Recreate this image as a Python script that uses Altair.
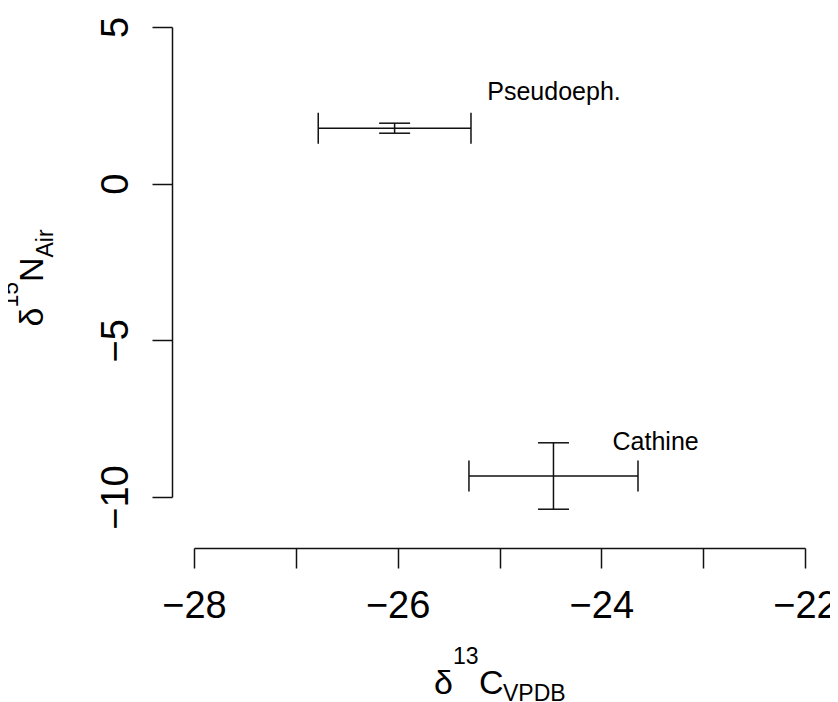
import altair as alt
import pandas as pd

# ---- data ----
compounds = ["Pseudoeph.", "Cathine"]
d13C = [-26.03, -24.47]          # δ13C VPDB mean
d13C_sd = [0.75, 0.83]           # half-width of horizontal error bar
d15N = [1.77, -9.33]             # δ15N Air mean
d15N_sd = [0.16, 1.06]           # half-height of vertical error bar
label_x = [-25.12, -23.89]
label_y = [2.91, -8.23]

x_ticks = [-28, -27, -26, -25, -24, -23, -22]
y_ticks = [-10, -5, 0, 5]

df = pd.DataFrame({
    "compound": compounds,
    "x": d13C,
    "x_lo": [m - s for m, s in zip(d13C, d13C_sd)],
    "x_hi": [m + s for m, s in zip(d13C, d13C_sd)],
    "y": d15N,
    "y_lo": [m - s for m, s in zip(d15N, d15N_sd)],
    "y_hi": [m + s for m, s in zip(d15N, d15N_sd)],
    "lx": label_x,
    "ly": label_y,
})

FONT = "Liberation Sans"
INK = "#111111"
LW = 1.5
CAP = 31

xs = alt.Scale(domain=[-28, -22], nice=False, zero=False)
ys = alt.Scale(domain=[-10, 5], nice=False, zero=False)

xaxis = alt.Axis(
    values=x_ticks, title=None, offset=51, tickSize=20, tickWidth=LW,
    domainWidth=LW, domainColor=INK, tickColor=INK, grid=False,
    labelFont=FONT, labelFontSize=38, labelColor="#000", labelPadding=19,
    labelOverlap=False, labelFlush=False,
    labelExpr="datum.value % 2 == 0 ? datum.label : ''",
)
yaxis = alt.Axis(
    values=y_ticks, title=None, offset=22, tickSize=20, tickWidth=LW,
    domainWidth=LW, domainColor=INK, tickColor=INK, grid=False,
    labelFont=FONT, labelFontSize=38, labelColor="#000", labelPadding=25,
    labelAngle=270, labelAlign="center", labelBaseline="alphabetic",
    labelOverlap=False, labelFlush=False,
)

base = alt.Chart(df)

hbar = base.mark_rule(color=INK, strokeWidth=LW).encode(
    x=alt.X("x_lo:Q", scale=xs, axis=xaxis),
    x2="x_hi:Q",
    y=alt.Y("y:Q", scale=ys, axis=yaxis),
)
vbar = base.mark_rule(color=INK, strokeWidth=LW).encode(
    x=alt.X("x:Q", scale=xs, axis=xaxis),
    y=alt.Y("y_lo:Q", scale=ys, axis=yaxis),
    y2="y_hi:Q",
)
hcap_lo = base.mark_tick(orient="vertical", size=CAP, thickness=LW, color=INK, opacity=1).encode(
    x=alt.X("x_lo:Q", scale=xs, axis=xaxis), y=alt.Y("y:Q", scale=ys, axis=yaxis))
hcap_hi = base.mark_tick(orient="vertical", size=CAP, thickness=LW, color=INK, opacity=1).encode(
    x=alt.X("x_hi:Q", scale=xs, axis=xaxis), y=alt.Y("y:Q", scale=ys, axis=yaxis))
vcap_lo = base.mark_tick(orient="horizontal", size=CAP, thickness=LW, color=INK, opacity=1).encode(
    x=alt.X("x:Q", scale=xs, axis=xaxis), y=alt.Y("y_lo:Q", scale=ys, axis=yaxis))
vcap_hi = base.mark_tick(orient="horizontal", size=CAP, thickness=LW, color=INK, opacity=1).encode(
    x=alt.X("x:Q", scale=xs, axis=xaxis), y=alt.Y("y_hi:Q", scale=ys, axis=yaxis))

labels = base.mark_text(align="left", baseline="middle", font=FONT, fontSize=25, color="#000").encode(
    x=alt.X("lx:Q", scale=xs, axis=xaxis),
    y=alt.Y("ly:Q", scale=ys, axis=yaxis),
    text="compound:N",
)

# ---- axis titles built from pieces (super/subscripts) ----
one = alt.Data(values=[{"k": 0}])


def piece(txt, px, py, size, angle=0):
    return alt.Chart(one).mark_text(
        text=txt, align="left", baseline="alphabetic", font=FONT,
        fontSize=size, color="#000", angle=angle,
    ).encode(x=alt.value(px), y=alt.value(py))


MAIN, SCRIPT = 34, 23
x_title = [
    piece("δ", 240, 667, MAIN),
    piece("13", 259, 637, SCRIPT),
    piece("C", 285, 667, MAIN),
    piece("VPDB", 309, 674, SCRIPT),
]
y_title = [
    piece("δ", -151, 299.5, MAIN, 270),
    piece("15", -176, 280.6, SCRIPT, 270),
    piece("N", -151, 255, MAIN, 270),
    piece("Air", -141, 230.5, SCRIPT, 270),
]

chart = alt.layer(
    hbar, vbar, hcap_lo, hcap_hi, vcap_lo, vcap_hi, labels, *x_title, *y_title
).properties(
    width=611, height=470,
    autosize=alt.AutoSizeParams(type="none"),
    padding={"left": 186, "top": 19, "right": 25, "bottom": 205},
    background="white",
).configure_view(stroke=None)

chart.save("out.html", embed_options={"renderer": "svg", "actions": False})
